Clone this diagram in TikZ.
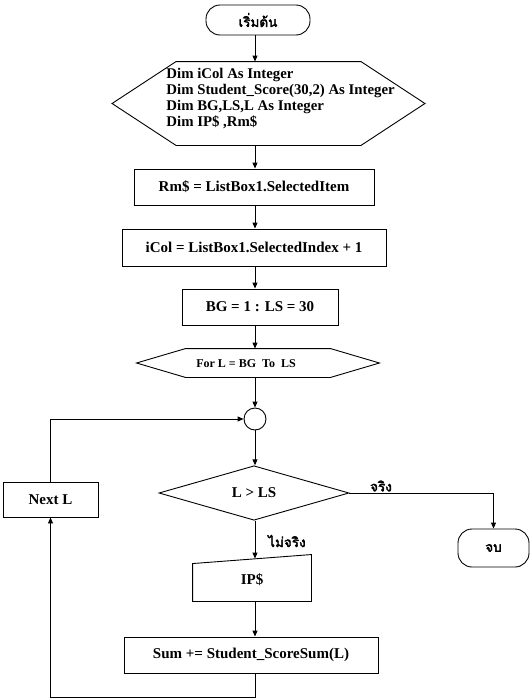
\documentclass[tikz,border=0pt]{standalone}
\usepackage{fontspec}
\setmainfont{Liberation Serif}
\newfontfamily\thaifont[Script=Thai,AutoFakeBold=2.5]{Loma}
\usetikzlibrary{arrows.meta,shapes.geometric}
\begin{document}
\begin{tikzpicture}[x=1pt,y=-1pt,line width=0.9pt,
  >={Triangle[length=6pt,width=5pt]},
  txt/.style={font=\bfseries\fontsize{15}{17}\selectfont,inner sep=0pt},
  proc/.style={txt,draw,rectangle},
  term/.style={draw,rectangle,rounded corners=14pt,inner sep=0pt,font=\thaifont\bfseries\fontsize{13.5}{15}\selectfont},
  thailabel/.style={font=\thaifont\bfseries\fontsize{13.5}{15}\selectfont,inner sep=1pt}]
  \useasboundingbox (0,0) rectangle (532,699);

  \node[term,minimum width=104pt,minimum height=30pt] (start) at (258,20) {เริ่มต้น};

  \node[minimum width=184pt,minimum height=83pt,inner sep=0pt] (dim) at (268.5,103.5) {};
  \draw (dim.north west) -- (dim.north east) -- ([xshift=64pt]dim.east) -- (dim.south east)
    -- (dim.south west) -- ([xshift=-64pt]dim.west) -- cycle;
  \node[txt,anchor=west,align=left,font=\bfseries\fontsize{14.8}{15.7}\selectfont] (dimtxt) at (166,98.5)
    {Dim iCol As Integer\\Dim Student\_Score(30,2) As Integer\\Dim BG,LS,L As Integer\\Dim IP\$ ,Rm\$};

  \node[proc,minimum width=240pt,minimum height=36pt] (rm) at (254,187) {Rm\$ = ListBox1.SelectedItem};
  \node[proc,minimum width=264pt,minimum height=37pt] (icol) at (254,247.5) {iCol = ListBox1.SelectedIndex + 1};
  \node[proc,minimum width=156pt,minimum height=36pt] (bg) at (260,307) {BG = 1 : LS = 30};

  \node[minimum width=144pt,minimum height=28pt,inner sep=0pt] (forhex) at (258,363) {};
  \draw (forhex.north west) -- (forhex.north east) -- ([xshift=49pt]forhex.east) -- (forhex.south east)
    -- (forhex.south west) -- ([xshift=-49pt]forhex.west) -- cycle;
  \node[txt,font=\bfseries\fontsize{12}{14}\selectfont] (fortxt) at (246,364) {For L = BG~~To~~LS};

  \node[draw,circle,minimum size=22pt,inner sep=0pt] (joint) at (255,419) {};

  \node[proc,minimum width=95pt,minimum height=35pt] (nextl) at (50.5,499.5) {Next L};
  \node[txt,draw,diamond,minimum width=190pt,minimum height=48pt] (cond) at (254,493) {L > LS};
  \node[term,minimum width=71pt,minimum height=38pt] (stop) at (493.5,548) {จบ};

  \node[txt,minimum width=118pt,minimum height=42pt] (ipin) at (252,580) {IP\$};
  \draw (ipin.south west) -- (ipin.south east) -- ([yshift=4pt]ipin.north east)
    -- ([yshift=-5pt]ipin.north west) -- cycle;

  \node[proc,minimum width=254pt,minimum height=36pt] (sum) at (251,655) {Sum += Student\_ScoreSum(L)};

  \node[thailabel] (yes) at (381,486) {จริง};
  \node[thailabel] (no) at (287,541) {ไม่จริง};

  \coordinate (loopbot) at (50.5,697);

  \draw[->] (joint |- start.south) -- (joint |- dim.north);
  \draw[->] (joint |- dim.south) -- (joint |- rm.north);
  \draw[->] (joint |- rm.south) -- (joint |- icol.north);
  \draw[->] (joint |- icol.south) -- (joint |- bg.north);
  \draw[->] (joint |- bg.south) -- (joint |- forhex.north);
  \draw[->] (joint |- forhex.south) -- (joint);
  \draw[->] (joint) -- (joint |- cond.north);
  \draw[->] (joint |- cond.south) -- (joint |- ipin.north);
  \draw[->] (joint |- ipin.south) -- (joint |- sum.north);
  \draw[->] (joint |- sum.south) |- (loopbot) -- (nextl.south);
  \draw[->] (nextl.north) |- (joint.west);
  \draw[->] (cond.east) -| (stop.north);
\end{tikzpicture}
\end{document}
